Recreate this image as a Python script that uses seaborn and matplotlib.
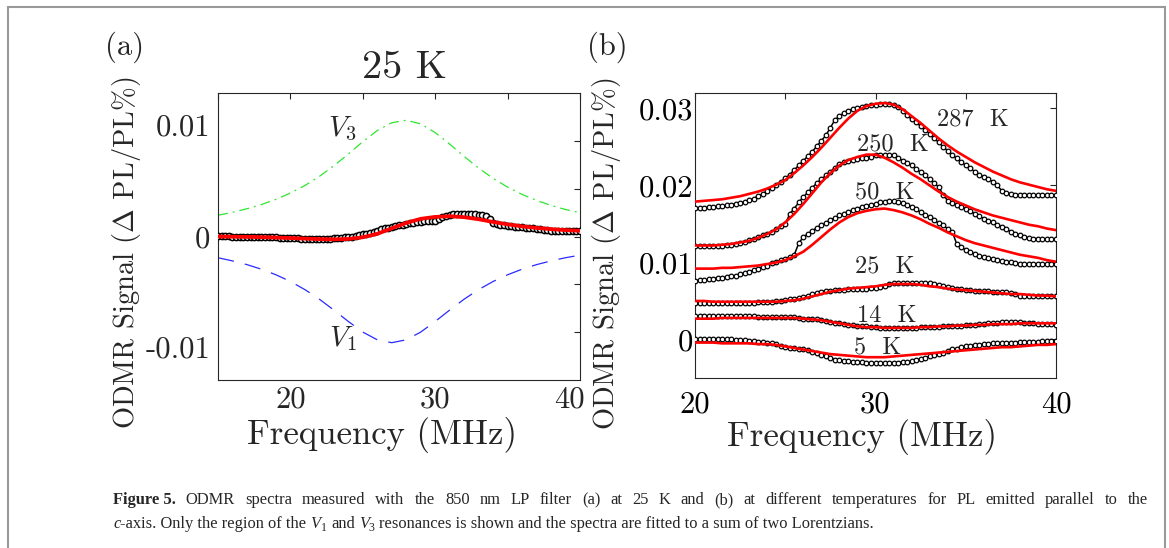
import numpy as np
import pandas as pd
import seaborn as sns
import matplotlib.pyplot as plt
from matplotlib.patches import Rectangle
from matplotlib.transforms import blended_transform_factory

# ---- panel (a): 25 K spectrum with the two Lorentzian components ----
freq_a_fit = np.linspace(15, 40, 26)
v3_a = [0.00222, 0.00253, 0.00290, 0.00334, 0.00388, 0.00454, 0.00533, 0.00628,
        0.00739, 0.00862, 0.00991, 0.01108, 0.01189, 0.01215, 0.01177, 0.01086,
        0.00966, 0.00837, 0.00715, 0.00608, 0.00516, 0.00440, 0.00377, 0.00325,
        0.00282, 0.00250]
v1_a = [-0.00222, -0.00255, -0.00294, -0.00342, -0.00400, -0.00470, -0.00555,
        -0.00655, -0.00769, -0.00888, -0.00999, -0.01080, -0.01110, -0.01080,
        -0.00999, -0.00888, -0.00769, -0.00655, -0.00555, -0.00470, -0.00400,
        -0.00342, -0.00294, -0.00255, -0.00222, -0.00195]
fit_a = [0.00000, -0.00002, -0.00004, -0.00007, -0.00011, -0.00016, -0.00022,
         -0.00027, -0.00030, -0.00026, -0.00008, 0.00028, 0.00085, 0.00142,
         0.00185, 0.00205, 0.00212, 0.00202, 0.00180, 0.00152, 0.00127, 0.00106,
         0.00090, 0.00077, 0.00067, 0.00060]

freq_a_data = np.linspace(15, 40, 101)
data_a = [0.0001, 0.0001, 0.0001, 0.0001,
          0.0000, 0.0000, 0.0000, 0.0000,
          0.0000, 0.0000, 0.0000, -0.0001,
          -0.0001, -0.0001, -0.0001, -0.0001,
          -0.0001, -0.0002, -0.0002, -0.0002,
          -0.0002, -0.0002, -0.0002, -0.0003,
          -0.0003, -0.0003, -0.0003, -0.0003,
          -0.0003, -0.0003, -0.0003, -0.0003,
          -0.0002, -0.0002, -0.0002, -0.0001,
          -0.0001, 0.0000, 0.0001, 0.0002,
          0.0003, 0.0003, 0.0004, 0.0005,
          0.0006, 0.0008, 0.0009, 0.0009,
          0.0010, 0.0011, 0.0012, 0.0012,
          0.0013, 0.0014, 0.0014, 0.0015,
          0.0015, 0.0016, 0.0016, 0.0016,
          0.0016, 0.0018, 0.0020, 0.0021,
          0.0022, 0.0023, 0.0023, 0.0023,
          0.0023, 0.0023, 0.0023, 0.0023,
          0.0022, 0.0022, 0.0021, 0.0018,
          0.0014, 0.0013, 0.0012, 0.0012,
          0.0011, 0.0011, 0.0010, 0.0010,
          0.0010, 0.0009, 0.0009, 0.0009,
          0.0008, 0.0008, 0.0007, 0.0007,
          0.0006, 0.0006, 0.0006, 0.0006,
          0.0006, 0.0006, 0.0006, 0.0006,
          0.0006]

# tick labels of panel (a) sit a little off their ticks in the original export
a_xtick_text = ['20', '30', '40']
a_xtick_at = [20, 30, 39.25]
a_ytick_text = ['0.01', '0', '-0.01']
a_ytick_at = [0.01139, -0.0003, -0.0118]

# ---- panel (b): spectra at several temperatures ----
temps = ["287  K", "250  K", "50  K", "25  K", "14  K", "5  K"]
freq_b_data = np.linspace(20, 40, 81)
freq_b_fit = np.linspace(20, 40, 41)

data_287 = [0.0171, 0.0171, 0.0171, 0.0172, 0.0172, 0.0173, 0.0173, 0.0174,
            0.0175, 0.0176, 0.0177, 0.0179, 0.0181, 0.0183, 0.0186, 0.0189,
            0.0193, 0.0197, 0.0201, 0.0205, 0.0209, 0.0214, 0.0220, 0.0226,
            0.0232, 0.0238, 0.0244, 0.0251, 0.0258, 0.0265, 0.0275, 0.0285,
            0.0290, 0.0294, 0.0297, 0.0299, 0.0301, 0.0302, 0.0303, 0.0304,
            0.0305, 0.0306, 0.0306, 0.0306, 0.0305, 0.0302, 0.0297, 0.0291,
            0.0286, 0.0282, 0.0277, 0.0272, 0.0267, 0.0261, 0.0256, 0.0250,
            0.0245, 0.0240, 0.0235, 0.0230, 0.0226, 0.0222, 0.0218, 0.0214,
            0.0211, 0.0208, 0.0205, 0.0200, 0.0193, 0.0190, 0.0189, 0.0188,
            0.0188, 0.0188, 0.0188, 0.0187, 0.0187, 0.0187, 0.0187, 0.0187,
            0.0187]
data_250 = [0.0121, 0.0121, 0.0121, 0.0122, 0.0122, 0.0122, 0.0122, 0.0123,
            0.0123, 0.0124, 0.0125, 0.0127, 0.0129, 0.0131, 0.0133, 0.0135,
            0.0137, 0.0140, 0.0143, 0.0147, 0.0150, 0.0163, 0.0170, 0.0178,
            0.0185, 0.0191, 0.0197, 0.0203, 0.0208, 0.0213, 0.0218, 0.0223,
            0.0228, 0.0230, 0.0232, 0.0233, 0.0234, 0.0235, 0.0236, 0.0237,
            0.0239, 0.0240, 0.0240, 0.0240, 0.0239, 0.0236, 0.0232, 0.0229,
            0.0226, 0.0221, 0.0217, 0.0213, 0.0208, 0.0203, 0.0198, 0.0188,
            0.0180, 0.0177, 0.0175, 0.0172, 0.0170, 0.0167, 0.0163, 0.0160,
            0.0157, 0.0154, 0.0152, 0.0149, 0.0146, 0.0143, 0.0140, 0.0137,
            0.0135, 0.0133, 0.0132, 0.0131, 0.0131, 0.0130, 0.0130, 0.0130,
            0.0130]
data_50 = [0.0076, 0.0077, 0.0077, 0.0078, 0.0079, 0.0080, 0.0080, 0.0081,
           0.0082, 0.0083, 0.0085, 0.0086, 0.0088, 0.0090, 0.0092, 0.0094,
           0.0096, 0.0099, 0.0101, 0.0103, 0.0105, 0.0107, 0.0110, 0.0125,
           0.0133, 0.0137, 0.0141, 0.0145, 0.0148, 0.0151, 0.0155, 0.0158,
           0.0161, 0.0163, 0.0166, 0.0168, 0.0170, 0.0172, 0.0173, 0.0175,
           0.0176, 0.0178, 0.0179, 0.0180, 0.0180, 0.0179, 0.0177, 0.0175,
           0.0172, 0.0169, 0.0165, 0.0162, 0.0159, 0.0155, 0.0151, 0.0148,
           0.0144, 0.0140, 0.0124, 0.0120, 0.0116, 0.0113, 0.0111, 0.0109,
           0.0107, 0.0106, 0.0104, 0.0103, 0.0102, 0.0101, 0.0100, 0.0099,
           0.0098, 0.0098, 0.0098, 0.0098, 0.0098, 0.0098, 0.0098, 0.0098,
           0.0098]
data_25 = [0.0047, 0.0047, 0.0047, 0.0047, 0.0047, 0.0047, 0.0047, 0.0047,
           0.0048, 0.0048, 0.0048, 0.0048, 0.0048, 0.0048, 0.0049, 0.0049,
           0.0049, 0.0049, 0.0050, 0.0050, 0.0051, 0.0052, 0.0053, 0.0054,
           0.0055, 0.0057, 0.0059, 0.0060, 0.0062, 0.0063, 0.0063, 0.0064,
           0.0064, 0.0064, 0.0065, 0.0065, 0.0065, 0.0066, 0.0066, 0.0067,
           0.0067, 0.0068, 0.0070, 0.0072, 0.0073, 0.0073, 0.0073, 0.0073,
           0.0073, 0.0073, 0.0073, 0.0073, 0.0073, 0.0072, 0.0071, 0.0070,
           0.0068, 0.0067, 0.0066, 0.0065, 0.0064, 0.0064, 0.0063, 0.0063,
           0.0063, 0.0063, 0.0062, 0.0062, 0.0062, 0.0061, 0.0060, 0.0059,
           0.0057, 0.0057, 0.0056, 0.0056, 0.0056, 0.0056, 0.0056, 0.0056,
           0.0056]
data_14 = [0.0030, 0.0030, 0.0030, 0.0030, 0.0030, 0.0030, 0.0030, 0.0030,
           0.0030, 0.0030, 0.0030, 0.0030, 0.0030, 0.0030, 0.0029, 0.0029,
           0.0029, 0.0029, 0.0029, 0.0029, 0.0029, 0.0029, 0.0029, 0.0028,
           0.0027, 0.0027, 0.0026, 0.0026, 0.0025, 0.0024, 0.0023, 0.0022,
           0.0021, 0.0020, 0.0019, 0.0019, 0.0018, 0.0017, 0.0017, 0.0016,
           0.0016, 0.0015, 0.0015, 0.0015, 0.0015, 0.0015, 0.0015, 0.0015,
           0.0015, 0.0015, 0.0016, 0.0016, 0.0016, 0.0016, 0.0016, 0.0017,
           0.0017, 0.0017, 0.0018, 0.0018, 0.0019, 0.0019, 0.0019, 0.0020,
           0.0020, 0.0021, 0.0021, 0.0022, 0.0023, 0.0023, 0.0023, 0.0023,
           0.0023, 0.0022, 0.0021, 0.0021, 0.0020, 0.0020, 0.0020, 0.0020,
           0.0019]
data_5 = [0.0001, 0.0001, 0.0001, 0.0000, 0.0000, 0.0000, 0.0000, 0.0000,
          0.0000, -0.0001, -0.0001, -0.0001, -0.0002, -0.0002, -0.0003, -0.0003,
          -0.0004, -0.0005, -0.0006, -0.0008, -0.0010, -0.0011, -0.0011, -0.0012,
          -0.0013, -0.0014, -0.0016, -0.0018, -0.0020, -0.0022, -0.0024, -0.0026,
          -0.0027, -0.0028, -0.0028, -0.0029, -0.0029, -0.0029, -0.0030, -0.0030,
          -0.0030, -0.0030, -0.0030, -0.0030, -0.0030, -0.0030, -0.0029, -0.0029,
          -0.0028, -0.0027, -0.0025, -0.0024, -0.0022, -0.0020, -0.0019, -0.0017,
          -0.0015, -0.0013, -0.0012, -0.0010, -0.0009, -0.0008, -0.0007, -0.0007,
          -0.0006, -0.0006, -0.0005, -0.0005, -0.0005, -0.0004, -0.0004, -0.0004,
          -0.0003, -0.0003, -0.0003, -0.0003, -0.0003, -0.0002, -0.0002, -0.0002,
          -0.0002]

fit_287 = [0.0179, 0.0180, 0.0181, 0.0182, 0.0184, 0.0186, 0.0189, 0.0192, 0.0196,
           0.0201, 0.0207, 0.0216, 0.0226, 0.0237, 0.0249, 0.0262, 0.0275, 0.0287,
           0.0297, 0.0303, 0.0306, 0.0307, 0.0305, 0.0299, 0.0290, 0.0281, 0.0271,
           0.0261, 0.0252, 0.0244, 0.0237, 0.0230, 0.0224, 0.0218, 0.0213, 0.0208,
           0.0204, 0.0201, 0.0198, 0.0195, 0.0193]
fit_250 = [0.0122, 0.0122, 0.0122, 0.0123, 0.0124, 0.0126, 0.0128, 0.0132, 0.0137,
           0.0143, 0.0152, 0.0163, 0.0176, 0.0190, 0.0204, 0.0216, 0.0226, 0.0233,
           0.0237, 0.0240, 0.0240, 0.0236, 0.0230, 0.0223, 0.0215, 0.0208, 0.0200,
           0.0192, 0.0185, 0.0179, 0.0174, 0.0169, 0.0165, 0.0161, 0.0158, 0.0155,
           0.0152, 0.0149, 0.0147, 0.0144, 0.0142]
fit_50 = [0.0092, 0.0092, 0.0092, 0.0093, 0.0093, 0.0094, 0.0095, 0.0096, 0.0098,
          0.0100, 0.0103, 0.0108, 0.0114, 0.0123, 0.0133, 0.0143, 0.0152, 0.0159,
          0.0164, 0.0167, 0.0169, 0.0170, 0.0168, 0.0165, 0.0161, 0.0156, 0.0150,
          0.0145, 0.0139, 0.0134, 0.0129, 0.0125, 0.0122, 0.0119, 0.0116, 0.0113,
          0.0110, 0.0108, 0.0106, 0.0103, 0.0101]
fit_25 = [0.0050, 0.0050, 0.0049, 0.0049, 0.0049, 0.0049, 0.0049, 0.0049, 0.0049,
          0.0049, 0.0050, 0.0051, 0.0053, 0.0056, 0.0059, 0.0062, 0.0064, 0.0066,
          0.0067, 0.0068, 0.0069, 0.0071, 0.0072, 0.0072, 0.0072, 0.0071, 0.0069,
          0.0068, 0.0066, 0.0065, 0.0064, 0.0063, 0.0062, 0.0061, 0.0060, 0.0059,
          0.0059, 0.0058, 0.0057, 0.0057, 0.0056]
fit_14 = [0.0027, 0.0027, 0.0027, 0.0028, 0.0028, 0.0028, 0.0028, 0.0028, 0.0028,
          0.0028, 0.0028, 0.0028, 0.0027, 0.0026, 0.0025, 0.0023, 0.0021, 0.0019,
          0.0017, 0.0016, 0.0016, 0.0015, 0.0015, 0.0015, 0.0015, 0.0016, 0.0016,
          0.0017, 0.0017, 0.0018, 0.0018, 0.0019, 0.0019, 0.0020, 0.0020, 0.0020,
          0.0021, 0.0021, 0.0021, 0.0021, 0.0021]
fit_5 = [-0.0004, -0.0004, -0.0004, -0.0005, -0.0005, -0.0005, -0.0005, -0.0006,
         -0.0006, -0.0007, -0.0009, -0.0011, -0.0013, -0.0015, -0.0017, -0.0019,
         -0.0020, -0.0021, -0.0022, -0.0023, -0.0023, -0.0023, -0.0022, -0.0021,
         -0.0020, -0.0019, -0.0018, -0.0017, -0.0016, -0.0015, -0.0014, -0.0013,
         -0.0012, -0.0011, -0.0010, -0.0010, -0.0009, -0.0008, -0.0007, -0.0007,
         -0.0006]

data_b = [data_287, data_250, data_50, data_25, data_14, data_5]
fit_b = [fit_287, fit_250, fit_50, fit_25, fit_14, fit_5]
# label anchor (frequency, signal) for each temperature
label_x = [35.4, 30.95, 30.5, 30.5, 30.6, 30.1]
label_y = [0.0286, 0.02535, 0.0191, 0.0095, 0.0030, -0.0010]

sns.set_theme(style="white")
plt.rcParams['font.family'] = ['cmr10', 'DejaVu Serif']
plt.rcParams['mathtext.fontset'] = 'cm'
plt.rcParams['axes.unicode_minus'] = False
plt.rcParams['axes.formatter.use_mathtext'] = True

W, H = 1169, 548
TICK_SIZE = 22
fig = plt.figure(figsize=(W / 100, H / 100), dpi=100)
fig.patch.set_facecolor('white')

ax_a = fig.add_axes([218 / W, 1 - 380 / H, (580 - 218) / W, (380 - 93) / H])
ax_b = fig.add_axes([695 / W, 1 - 378 / H, (1056 - 695) / W, (378 - 93) / H])


def style_axes(ax, xticks, xlabels, yticks, ylabels, xpad, ypad):
    ax.set_xticks(xticks)
    ax.set_xticklabels(xlabels)
    ax.set_yticks(yticks)
    ax.set_yticklabels(ylabels)
    ax.tick_params(direction='in', top=True, right=True, length=4, width=0.8,
                   color='#262626', labelsize=TICK_SIZE, labelcolor='black')
    ax.tick_params(axis='x', pad=xpad)
    ax.tick_params(axis='y', pad=ypad)
    for s in ax.spines.values():
        s.set_visible(True)
        s.set_color('#262626')
        s.set_linewidth(0.8)
    ax.grid(False)
    ax.set_facecolor('white')


def set_labels(ax, xpos, ypos):
    ax.set_xlabel('Frequency (MHz)', fontsize=25)
    ax.set_ylabel(r'ODMR Signal ($\Delta$ PL/PL%)', fontsize=20.5)
    ax.xaxis.label.set_verticalalignment('center')
    ax.yaxis.label.set_verticalalignment('center')
    ax.xaxis.set_label_coords(*xpos)
    ax.yaxis.set_label_coords(*ypos)


# panel (a)
df_a = pd.DataFrame({'freq': freq_a_data, 'signal': data_a})
sns.lineplot(data=df_a, x='freq', y='signal', ax=ax_a, color='black', lw=2.0, zorder=2.5)
sns.scatterplot(data=df_a, x='freq', y='signal', ax=ax_a, marker='o', s=20,
                color='white', edgecolor='black', linewidth=1.1, zorder=3)
sns.lineplot(x=freq_a_fit, y=v3_a, ax=ax_a, color='#2ee62e', lw=0.9, zorder=2)
ax_a.lines[-1].set_dashes([8, 4, 1.5, 4])
sns.lineplot(x=freq_a_fit, y=v1_a, ax=ax_a, color='#2a2aff', lw=0.9, zorder=2)
ax_a.lines[-1].set_dashes([13, 9])
sns.lineplot(x=freq_a_fit, y=fit_a, ax=ax_a, color='red', lw=2.7, zorder=4)
ax_a.set_xlim(15, 40)
ax_a.set_ylim(-0.015, 0.015)
style_axes(ax_a, [15, 20, 25, 30, 35, 40], [''] * 6,
           [-0.01, -0.005, 0, 0.005, 0.01], [''] * 5, 6, 6)
bx = blended_transform_factory(ax_a.transData, ax_a.transAxes)
by = blended_transform_factory(ax_a.transAxes, ax_a.transData)
for t, xv in zip(a_xtick_text, a_xtick_at):
    ax_a.text(xv, -0.07, t, transform=bx, fontsize=TICK_SIZE, ha='center', va='center')
for t, yv in zip(a_ytick_text, a_ytick_at):
    ax_a.text(-0.021, yv, t, transform=by, fontsize=TICK_SIZE, ha='right', va='center')
ax_a.text(23.6, 0.0113, r'$V_3$', fontsize=21, ha='center', va='center')
ax_a.text(23.6, -0.01066, r'$V_1$', fontsize=21, ha='center', va='center')
set_labels(ax_a, (0.453, -0.192), (-0.2514, 0.444))

# panel (b)
for ys, fs in zip(data_b, fit_b):
    df = pd.DataFrame({'freq': freq_b_data, 'signal': ys})
    sns.lineplot(data=df, x='freq', y='signal', ax=ax_b, color='black', lw=1.1, zorder=2.5)
    sns.scatterplot(data=df, x='freq', y='signal', ax=ax_b, marker='o', s=11,
                    color='white', edgecolor='black', linewidth=0.9, zorder=3)
    sns.lineplot(x=freq_b_fit, y=fs, ax=ax_b, color='red', lw=1.9, zorder=4)
for temp, lx, ly in zip(temps, label_x, label_y):
    ax_b.text(lx, ly, temp, fontsize=17.5, ha='center', va='center', zorder=5)
ax_b.set_xlim(20, 40)
ax_b.set_ylim(-0.005, 0.032)
style_axes(ax_b, [20, 25, 30, 35, 40], ['20', '', '30', '', '40'],
           [0, 0.01, 0.02, 0.03], ['0', '0.01', '0.02', '0.03'], 9.5, 1.5)
set_labels(ax_b, (0.4626, -0.207), (-0.2465, 0.437))

fig.text(125 / W, 1 - 47 / H, '(a)', fontsize=22, ha='center', va='center')
fig.text(607 / W, 1 - 47 / H, '(b)', fontsize=22, ha='center', va='center')
fig.text(404 / W, 1 - 68 / H, '25 K', fontsize=29, ha='center', va='center')

# frame around the whole figure block
fig.add_artist(Rectangle((8 / W, -0.05), (1165 - 8) / W, 1.05 - 7 / H,
                         transform=fig.transFigure, fill=False,
                         edgecolor='#9a9a9a', lw=1.5))

# caption, written piece by piece so bold / italic runs line up
CAP_FONT = 'Liberation Serif'
CAP_SIZE = 11.9
renderer = fig.canvas.get_renderer()


def text_width(s, size=CAP_SIZE, **kw):
    t = fig.text(0, 0, s, fontsize=size, family=CAP_FONT, **kw)
    w = t.get_window_extent(renderer=renderer).width
    t.remove()
    return w / W


space_w = text_width('x x') - text_width('xx')


def write_runs(x, y, runs):
    for text, gap, style, weight, dy, scale in runs:
        if gap:
            x += space_w
        t = fig.text(x, y + dy / H, text, fontsize=CAP_SIZE * scale,
                     family=CAP_FONT, style=style, weight=weight, va='baseline')
        x += t.get_window_extent(renderer=renderer).width / W


# first line is justified to the right margin
left, right = 113 / W, 1148 / W
y1 = 1 - 504 / H
words = ('ODMR spectra measured with the 850 nm LP filter (a) at 25 K and (b) at '
         'different temperatures for PL emitted parallel to the').split()
bold_w = text_width('Figure 5.', weight='bold')
word_w = [text_width(w) for w in words]
gap = (right - left - bold_w - sum(word_w)) / len(words)
fig.text(left, y1, 'Figure 5.', fontsize=CAP_SIZE, family=CAP_FONT,
         weight='bold', va='baseline')
x = left + bold_w + gap
for w, ww in zip(words, word_w):
    fig.text(x, y1, w, fontsize=CAP_SIZE, family=CAP_FONT, va='baseline')
    x += ww + gap

write_runs(left, 1 - 528 / H, [
    ('c', False, 'italic', 'normal', 0, 1),
    ('-axis. Only the region of the', False, 'normal', 'normal', 0, 1),
    ('V', True, 'italic', 'normal', 0, 1),
    ('1', False, 'normal', 'normal', -3, 0.72),
    ('and', True, 'normal', 'normal', 0, 1),
    ('V', True, 'italic', 'normal', 0, 1),
    ('3', False, 'normal', 'normal', -3, 0.72),
    ('resonances is shown and the spectra are fitted to a sum of two Lorentzians.',
     True, 'normal', 'normal', 0, 1),
])

fig.savefig('out.png', dpi=100)
